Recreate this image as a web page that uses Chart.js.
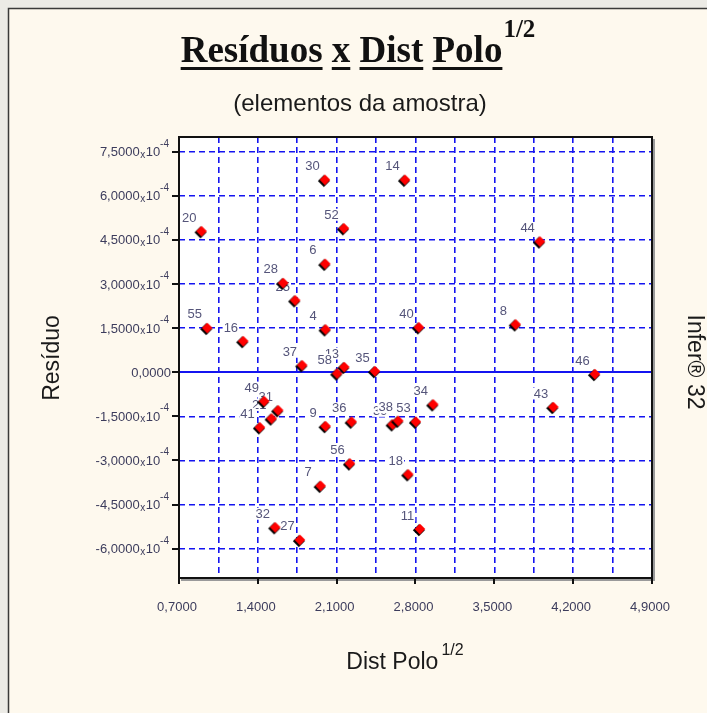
<!DOCTYPE html>
<html>
<head>
<meta charset="utf-8">
<title>Resíduos x Dist Polo</title>
<script src="https://cdn.jsdelivr.net/npm/chart.js@4.4.1/dist/chart.umd.min.js"></script>
<style>
  html, body { margin: 0; padding: 0; background: #ecebe6; }
  #wrap { width: 707px; height: 713px; }
  canvas { display: block; }
</style>
</head>
<body>
<div id="wrap"><canvas id="chart" width="707" height="713"></canvas></div>
<script>
// Sample element numbers, their sqrt(distance to pole) and residuals
const pointLabels = ["20","30","14","52","6","28","25","55","16","4","40","8","44","46","43","37","13","58","35",
                     "49","31","21","41","9","36","56","7","32","27","39","38","53","34","18","11"];
const distPolo = [0.897,1.992,2.703,2.161,1.995,1.622,1.728,0.947,1.267,1.998,2.827,3.686,3.902,4.390,4.020,1.791,2.164,2.101,2.436,
                  1.453,1.577,1.519,1.415,1.998,2.229,2.214,1.954,1.551,1.770,2.593,2.643,2.800,2.954,2.732,2.836];
const residuo = [4.78e-4,6.53e-4,6.53e-4,4.88e-4,3.67e-4,3.02e-4,2.43e-4,1.49e-4,1.04e-4,1.44e-4,1.51e-4,1.61e-4,4.43e-4,-0.08e-4,-1.20e-4,0.22e-4,0.16e-4,-0.06e-4,0.02e-4,
                 -1.00e-4,-1.31e-4,-1.59e-4,-1.89e-4,-1.85e-4,-1.70e-4,-3.12e-4,-3.88e-4,-5.29e-4,-5.72e-4,-1.79e-4,-1.67e-4,-1.70e-4,-1.11e-4,-3.49e-4,-5.35e-4];

// Axis ticks
const yTicks = [-6e-4, -4.5e-4, -3e-4, -1.5e-4, 0, 1.5e-4, 3e-4, 4.5e-4, 6e-4, 7.5e-4];
const xTicks = [0.7, 1.4, 2.1, 2.8, 3.5, 4.2, 4.9];
const xGridLines = [1.05, 1.4, 1.75, 2.1, 2.45, 2.8, 3.15, 3.5, 3.85, 4.2, 4.55];

const SANS = '"Liberation Sans", Arial, sans-serif';
const SERIF = '"Liberation Serif", "Times New Roman", serif';
const GRID_BLUE = '#1414f0';

// Red diamond marker with a dark drop edge
function makeMarker() {
  const c = document.createElement('canvas');
  c.width = 15; c.height = 15;
  const g = c.getContext('2d');
  const diamond = (cx, cy, r, fill) => {
    g.beginPath();
    g.moveTo(cx, cy - r); g.lineTo(cx + r, cy); g.lineTo(cx, cy + r); g.lineTo(cx - r, cy);
    g.closePath(); g.fillStyle = fill; g.fill();
  };
  diamond(6.8, 8.2, 6.0, '#000000');
  diamond(7.9, 7.1, 5.3, '#ff0000');
  return c;
}

function fmt(v) {
  return Math.abs(v).toFixed(4).replace('.', ',');
}

const decor = {
  id: 'decor',
  beforeDraw(chart) {
    const ctx = chart.ctx;
    const a = chart.chartArea;
    ctx.save();
    ctx.fillStyle = '#ecebe6';
    ctx.fillRect(0, 0, chart.width, chart.height);
    ctx.fillStyle = '#fef9ee';
    ctx.fillRect(8, 8, chart.width - 8, chart.height - 8);
    ctx.strokeStyle = '#3a3a3a';
    ctx.lineWidth = 1.5;
    ctx.beginPath();
    ctx.moveTo(8.5, chart.height); ctx.lineTo(8.5, 8.5); ctx.lineTo(chart.width, 8.5);
    ctx.stroke();
    ctx.fillStyle = '#ffffff';
    ctx.fillRect(a.left, a.top, a.right - a.left, a.bottom - a.top);
    ctx.restore();
  },
  beforeDatasetsDraw(chart) {
    const ctx = chart.ctx;
    const a = chart.chartArea;
    const xs = chart.scales.x, ys = chart.scales.y;
    ctx.save();
    // zero residual line
    const y0 = Math.round(ys.getPixelForValue(0));
    ctx.strokeStyle = GRID_BLUE;
    ctx.lineWidth = 2;
    ctx.beginPath(); ctx.moveTo(a.left, y0); ctx.lineTo(a.right, y0); ctx.stroke();
    // element numbers beside the points
    ctx.font = '13px ' + SANS;
    ctx.textAlign = 'center';
    ctx.textBaseline = 'middle';
    pointLabels.forEach((lab, i) => {
      const px = xs.getPixelForValue(distPolo[i]) - 12;
      const py = ys.getPixelForValue(residuo[i]) - 14;
      const w = ctx.measureText(lab).width;
      ctx.fillStyle = '#ffffff';
      ctx.fillRect(px - w / 2 - 1, py - 6, w + 2, 12);
      ctx.fillStyle = '#55557a';
      ctx.fillText(lab, px, py + 0.5);
    });
    ctx.restore();
  },
  afterDraw(chart) {
    const ctx = chart.ctx;
    const a = chart.chartArea;
    const xs = chart.scales.x, ys = chart.scales.y;
    ctx.save();

    // plot frame with soft shadow
    ctx.strokeStyle = '#9a9a9a';
    ctx.lineWidth = 2;
    ctx.beginPath();
    ctx.moveTo(a.right + 2, a.top + 2); ctx.lineTo(a.right + 2, a.bottom + 2); ctx.lineTo(a.left + 2, a.bottom + 2);
    ctx.stroke();
    ctx.strokeStyle = '#111111';
    ctx.strokeRect(a.left, a.top, a.right - a.left, a.bottom - a.top);

    // tick marks
    ctx.lineWidth = 2;
    yTicks.forEach(v => {
      const y = Math.round(ys.getPixelForValue(v));
      ctx.beginPath(); ctx.moveTo(a.left - 7, y); ctx.lineTo(a.left, y); ctx.stroke();
    });
    xTicks.forEach(v => {
      const x = Math.round(xs.getPixelForValue(v));
      ctx.beginPath(); ctx.moveTo(x, a.bottom); ctx.lineTo(x, a.bottom + 6); ctx.stroke();
    });

    // y tick labels: n,nnnn x 10^-4
    ctx.fillStyle = '#3c3c5c';
    ctx.textBaseline = 'alphabetic';
    yTicks.forEach(v => {
      const y = ys.getPixelForValue(v);
      if (v === 0) {
        ctx.font = '13px ' + SANS;
        ctx.textAlign = 'right';
        ctx.fillText('0,0000', a.left - 8, y + 4.5);
        return;
      }
      let xr = a.left - 10;
      ctx.textAlign = 'right';
      ctx.font = '10px ' + SANS;
      ctx.fillText('-4', xr, y - 5);
      xr -= ctx.measureText('-4').width;
      ctx.font = '13px ' + SANS;
      ctx.fillText('10', xr, y + 4.5);
      xr -= ctx.measureText('10').width + 0.5;
      ctx.font = '10px ' + SANS;
      ctx.fillText('x', xr, y + 6);
      xr -= ctx.measureText('x').width + 0.5;
      ctx.font = '13px ' + SANS;
      ctx.fillText((v < 0 ? '-' : '') + fmt(v / 1e-4), xr, y + 4.5);
    });

    // x tick labels
    ctx.font = '13px ' + SANS;
    ctx.textAlign = 'center';
    xTicks.forEach(v => {
      ctx.fillText(fmt(v), xs.getPixelForValue(v) - 2, a.bottom + 33);
    });

    // title with underlined words and exponent
    ctx.fillStyle = '#111111';
    ctx.textAlign = 'left';
    ctx.font = 'bold 37px ' + SERIF;
    const words = ['Resíduos', 'x', 'Dist', 'Polo'];
    const sp = ctx.measureText(' ').width;
    const widths = words.map(w => ctx.measureText(w).width);
    ctx.font = 'bold 25px ' + SERIF;
    const supW = ctx.measureText('1/2').width;
    const total = widths.reduce((s, w) => s + w, 0) + sp * 3 + supW + 1;
    let tx = 358 - total / 2;
    ctx.font = 'bold 37px ' + SERIF;
    words.forEach((w, i) => {
      ctx.fillText(w, tx, 62);
      ctx.fillRect(tx, 67, widths[i], 3);
      tx += widths[i] + sp;
    });
    tx -= sp - 1;
    ctx.font = 'bold 25px ' + SERIF;
    ctx.fillText('1/2', tx, 37);

    // subtitle
    ctx.fillStyle = '#1a1a1a';
    ctx.font = '24px ' + SANS;
    ctx.textAlign = 'center';
    ctx.fillText('(elementos da amostra)', 360, 111);

    // x axis title
    ctx.font = '23px ' + SANS;
    ctx.textAlign = 'left';
    const xt = 'Dist Polo';
    const xtw = ctx.measureText(xt).width;
    ctx.font = '16px ' + SANS;
    const xsw = ctx.measureText('1/2').width;
    let ax = 405 - (xtw + xsw + 3) / 2;
    ctx.font = '23px ' + SANS;
    ctx.fillText(xt, ax, 669);
    ctx.font = '16px ' + SANS;
    ctx.fillText('1/2', ax + xtw + 3, 655);

    // y axis title
    ctx.save();
    ctx.translate(59, 358);
    ctx.rotate(-Math.PI / 2);
    ctx.font = '23px ' + SANS;
    ctx.textAlign = 'center';
    ctx.fillText('Resíduo', 0, 0);
    ctx.restore();

    // right side tag
    ctx.save();
    ctx.translate(688, 362);
    ctx.rotate(Math.PI / 2);
    ctx.font = '23px ' + SANS;
    ctx.textAlign = 'center';
    ctx.fillText('Infer® 32', 0, 0);
    ctx.restore();

    ctx.restore();
  }
};

new Chart(document.getElementById('chart'), {
  type: 'scatter',
  data: {
    datasets: [{
      label: 'Resíduo',
      data: distPolo.map((x, i) => ({ x: x, y: residuo[i] })),
      pointStyle: makeMarker(),
      pointRadius: 6,
      pointHoverRadius: 6
    }]
  },
  options: {
    responsive: false,
    animation: false,
    devicePixelRatio: 1,
    events: [],
    layout: { padding: { left: 179, right: 55, top: 137, bottom: 135 } },
    plugins: { legend: { display: false }, tooltip: { enabled: false }, title: { display: false } },
    scales: {
      x: {
        type: 'linear', min: 0.7, max: 4.9,
        afterBuildTicks: s => { s.ticks = xGridLines.map(v => ({ value: v })); },
        ticks: { display: false },
        grid: { color: GRID_BLUE, lineWidth: 1.6, drawTicks: false },
        border: { display: false, dash: [6, 4] }
      },
      y: {
        type: 'linear', min: -7e-4, max: 8e-4,
        afterBuildTicks: s => { s.ticks = yTicks.map(v => ({ value: v })); },
        ticks: { display: false },
        grid: { color: GRID_BLUE, lineWidth: 1.6, drawTicks: false },
        border: { display: false, dash: [6, 4] }
      }
    }
  },
  plugins: [decor]
});
</script>
</body>
</html>
